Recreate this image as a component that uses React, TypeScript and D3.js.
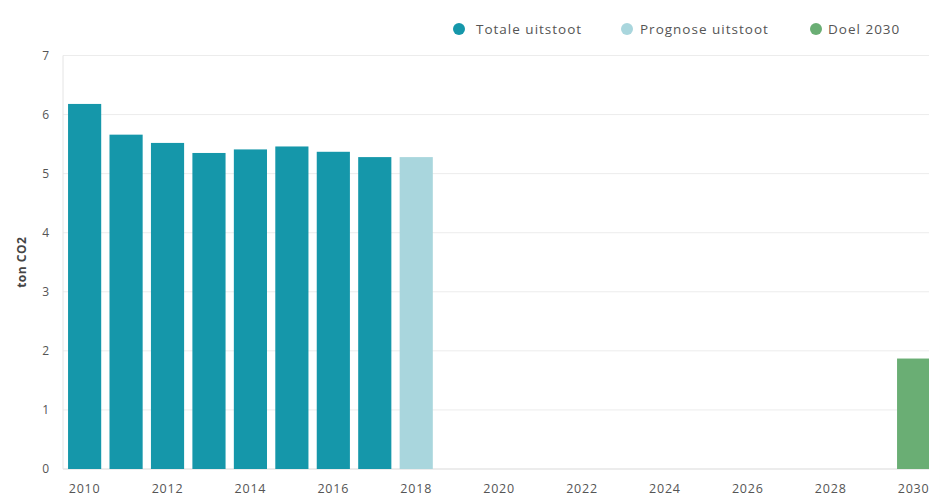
import * as d3 from "d3";

// CO2 per inwoner (ton)
const years = d3.range(2010, 2031).map(String);
const totaleUitstoot = [
  { year: "2010", value: 6.18 },
  { year: "2011", value: 5.66 },
  { year: "2012", value: 5.52 },
  { year: "2013", value: 5.35 },
  { year: "2014", value: 5.41 },
  { year: "2015", value: 5.46 },
  { year: "2016", value: 5.37 },
  { year: "2017", value: 5.28 },
];
const prognose = [{ year: "2018", value: 5.28 }];
const doel = [{ year: "2030", value: 1.87 }];
const yTicks = [0, 1, 2, 3, 4, 5, 6, 7];
const xTicks = years.filter((y) => +y % 2 === 0);

const legend = [
  { label: "Totale uitstoot", color: "#1597aa", cx: 459, tx: 476 },
  { label: "Prognose uitstoot", color: "#a9d6dd", cx: 627, tx: 640 },
  { label: "Doel 2030", color: "#6aae74", cx: 816, tx: 828 },
];

const W = 929;
const H = 497;
const font = "'Open Sans', 'DejaVu Sans', sans-serif";

const App = () => {
  const step = 41.45;
  const x = d3
    .scaleBand()
    .domain(years)
    .range([63.9, 63.9 + 21 * step])
    .paddingInner(0.2)
    .paddingOuter(0.1);
  const y = d3.scaleLinear().domain([0, 7]).range([469, 55.5]);

  const bars = (data: { year: string; value: number }[], color: string) =>
    data.map((d) => (
      <rect
        key={d.year}
        x={x(d.year)}
        y={y(d.value)}
        width={x.bandwidth()}
        height={y(0) - y(d.value)}
        fill={color}
      />
    ));

  return (
    <svg
      width={W}
      height={H}
      style={{ position: "absolute", left: 0, top: 0, background: "#fff" }}
      fontFamily={font}
    >
      {/* grid */}
      {yTicks.map((t) => (
        <line key={t} x1={63} x2={W} y1={y(t)} y2={y(t)} stroke={t === 0 ? "#d9d9d9" : "#ececec"} />
      ))}
      <line x1={63} x2={63} y1={y(7)} y2={y(0)} stroke="#e4e4e4" />

      {/* y labels */}
      {yTicks.map((t) => (
        <text key={t} x={49} y={y(t)} dy="0.35em" textAnchor="end" fontSize={12} fill="#555">
          {t}
        </text>
      ))}
      <text
        transform={`translate(26,${y(3.5)}) rotate(-90)`}
        textAnchor="middle"
        fontSize={12}
        fontWeight="bold"
        fill="#444"
        letterSpacing={0.5}
      >
        ton CO2
      </text>

      {bars(totaleUitstoot, legend[0].color)}
      {bars(prognose, legend[1].color)}
      {bars(doel, legend[2].color)}

      {/* x labels */}
      {xTicks.map((t) => (
        <text
          key={t}
          x={(x(t) ?? 0) + x.bandwidth() / 2}
          y={489}
          dy="0.35em"
          textAnchor="middle"
          fontSize={12.5}
          letterSpacing={0.8}
          fill="#555"
        >
          {t}
        </text>
      ))}

      {/* legend */}
      {legend.map((l) => (
        <g key={l.label}>
          <circle cx={l.cx} cy={29} r={6} fill={l.color} />
          <text x={l.tx} y={29} dy="0.35em" fontSize={13.5} letterSpacing={1} fill="#555">
            {l.label}
          </text>
        </g>
      ))}
    </svg>
  );
};

export default App;
